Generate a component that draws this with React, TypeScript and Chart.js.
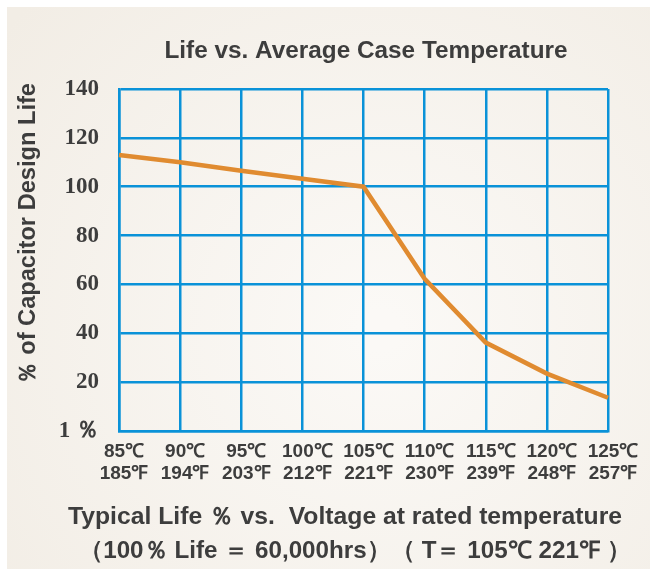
import React, { useEffect, useRef } from "react";
import { Chart, registerables } from "chart.js";

Chart.register(...registerables);

const tempC: string[] = ["85℃", "90℃", "95℃", "100℃", "105℃", "110℃", "115℃", "120℃", "125℃"];
const tempF: string[] = ["185℉", "194℉", "203℉", "212℉", "221℉", "230℉", "239℉", "248℉", "257℉"];
const lifePercent: number[] = [113, 110, 106.5, 103.3, 100, 62.3, 36.2, 23.5, 13.6];
const yTicks: number[] = [0, 20, 40, 60, 80, 100, 120, 140];

const titleText = "Life vs. Average Case Temperature";
const yTitleText = "％ of Capacitor Design Life";
const footLine1 = "Typical Life ％ vs.  Voltage at rated temperature";
const footLine2 = "（100％ Life ＝ 60,000hrs）（ T＝ 105℃ 221℉ ）";

const GRID = "#0a92d8";
const LINE = "#e08b30";
const TEXT = "#3d3d3d";

function fitText(ctx: any, text: string, x: number, y: number, width: number) {
  const m = ctx.measureText(text).width;
  const sx = width / m;
  ctx.save();
  ctx.translate(x, y);
  ctx.scale(sx, 1);
  ctx.fillText(text, 0, 0);
  ctx.restore();
}

const textPlugin = {
  id: "decor",
  beforeDraw(chart: any) {
    const ctx = chart.ctx;
    const w = chart.width;
    const h = chart.height;
    ctx.save();
    ctx.fillStyle = "#ffffff";
    ctx.fillRect(0, 0, w, h);
    const g = ctx.createRadialGradient(380, 330, 20, 380, 330, 480);
    g.addColorStop(0, "#fbf9f6");
    g.addColorStop(1, "#f2ede5");
    ctx.fillStyle = g;
    ctx.fillRect(7, 7, 643, h - 7);
    ctx.restore();
  },
  afterDraw(chart: any) {
    const ctx = chart.ctx;
    ctx.save();
    ctx.fillStyle = TEXT;
    ctx.textBaseline = "middle";
    ctx.textAlign = "center";
    ctx.font = "bold 23px 'Liberation Sans', Arial, sans-serif";
    fitText(ctx, titleText, 366, 52, 403);

    ctx.save();
    ctx.translate(29, 234);
    ctx.rotate(-Math.PI / 2);
    ctx.font = "bold 23px 'Liberation Sans', Arial, sans-serif";
    fitText(ctx, yTitleText, 0, 0, 302);
    ctx.restore();

    ctx.font = "bold 24px 'Liberation Sans', Arial, sans-serif";
    fitText(ctx, footLine1, 345, 517, 554);
    fitText(ctx, footLine2, 355, 551, 552);
    ctx.restore();
  },
};

export default function App() {
  const ref = useRef<HTMLCanvasElement | null>(null);

  useEffect(() => {
    if (!ref.current) return;
    const labels = tempC.map((c, i) => [c, tempF[i]]);
    const chart = new Chart(ref.current, {
      type: "line",
      data: {
        labels,
        datasets: [
          {
            data: lifePercent,
            borderColor: LINE,
            backgroundColor: LINE,
            borderWidth: 4.5,
            pointRadius: 0,
            tension: 0,
            fill: false,
          },
        ],
      },
      options: {
        animation: false,
        responsive: false,
        maintainAspectRatio: false,
        layout: { padding: { top: 89, right: 49, left: 0, bottom: 0 } },
        plugins: {
          legend: { display: false },
          tooltip: { enabled: false },
          title: { display: false },
        },
        scales: {
          x: {
            type: "category",
            offset: false,
            grid: { color: GRID, lineWidth: 2.5, drawTicks: false },
            border: { color: GRID, width: 2.5 },
            ticks: {
              color: TEXT,
              font: { family: "'Liberation Sans', Arial, sans-serif", size: 19, weight: "bold", lineHeight: 1.15 },
              padding: 10,
              labelOffset: 5,
              maxRotation: 0,
              minRotation: 0,
              autoSkip: false,
            },
            afterFit: (s: any) => {
              s.height = 138;
            },
          },
          y: {
            min: 0,
            max: 140,
            afterBuildTicks: (s: any) => {
              s.ticks = yTicks.map((v) => ({ value: v }));
            },
            grid: { color: GRID, lineWidth: 2.5, drawTicks: false },
            border: { color: GRID, width: 2.5 },
            ticks: {
              color: TEXT,
              font: { family: "'Liberation Serif', 'Times New Roman', serif", size: 23, weight: "bold" },
              padding: 20,
              callback: (v: any) => (Number(v) === 0 ? "1 ％" : String(v)),
            },
            afterFit: (s: any) => {
              s.width = 119;
            },
          },
        },
      },
      plugins: [textPlugin],
    });
    return () => chart.destroy();
  }, []);

  return (
    <div style={{ position: "fixed", left: 0, top: 0, width: 657, height: 569 }}>
      <canvas ref={ref} width={657} height={569} style={{ width: 657, height: 569, display: "block" }} />
    </div>
  );
}
